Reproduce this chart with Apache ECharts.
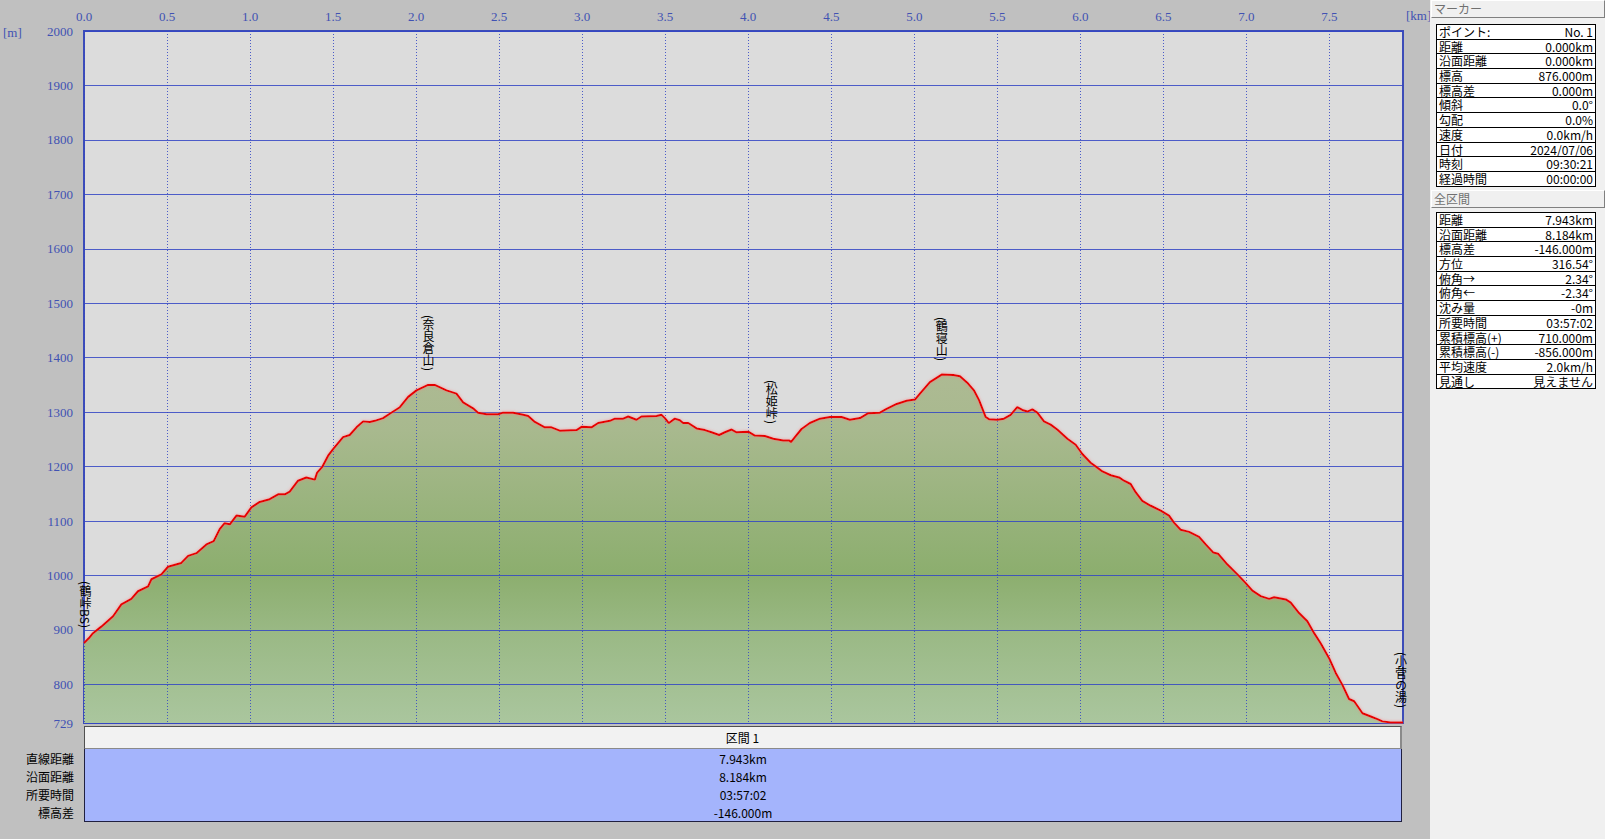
<!DOCTYPE html>
<html><head><meta charset="utf-8">
<script src="https://cdn.jsdelivr.net/npm/echarts@6/dist/echarts.min.js"></script>
<style>
html,body{margin:0;padding:0;background:#c0c0c0;width:1605px;height:839px;overflow:hidden;font-family:"Noto Sans CJK JP",sans-serif;}
#chart{position:absolute;left:0;top:0;width:1605px;height:839px;}
#panel{position:absolute;left:1430px;top:0;width:175px;height:839px;background:#f0f0f0;}
.hdr{position:absolute;left:1px;width:170px;height:16px;border:1px solid;border-color:#ffffff #808080 #808080 #ffffff;color:#707070;font-size:12px;line-height:16px;padding-left:2px;box-sizing:content-box;}
.tbl{position:absolute;left:6px;width:158px;border:1px solid #000;background:#fff;}
.row{height:13.7px;border-bottom:1px solid #000;display:flex;justify-content:space-between;font-size:12px;line-height:14px;padding:0 2px;color:#000;}
.row:last-child{border-bottom:none;}
#sechdr{position:absolute;left:84px;top:726px;width:1315px;height:21px;background:#f2f2f2;border:1px solid #505050;border-bottom:2px solid #8a8a8a;border-right:2px solid #8a8a8a;text-align:center;font-size:12px;line-height:21px;color:#000;}
#secbody{position:absolute;left:84px;top:749px;width:1316px;height:72px;background:#a4b4fc;border:1px solid #202040;border-top:none;}
.sv{position:absolute;left:0;width:100%;text-align:center;font-size:12px;line-height:18px;color:#000;}
.sl{position:absolute;right:1531px;font-size:12px;line-height:18px;color:#000;white-space:nowrap;}
.wp{position:absolute;writing-mode:vertical-rl;text-orientation:mixed;font-size:12px;line-height:12px;color:#000;white-space:nowrap;transform:translate(-50%,-100%);font-family:"Noto Sans CJK JP",sans-serif;}
</style></head><body>
<div id="chart"></div>
<div id="panel"></div>
<div id="sechdr"></div>
<div id="secbody"></div>
<script>
const distanceKm = [0.000,0.030,0.054,0.104,0.175,0.225,0.285,0.325,0.386,0.406,0.466,0.506,0.586,0.627,0.677,0.737,0.781,0.817,0.847,0.878,0.918,0.968,1.008,1.058,1.118,1.169,1.209,1.239,1.289,1.339,1.390,1.404,1.436,1.470,1.500,1.560,1.600,1.641,1.681,1.721,1.751,1.801,1.841,1.902,1.952,2.002,2.072,2.112,2.183,2.243,2.283,2.343,2.373,2.424,2.494,2.524,2.584,2.645,2.675,2.715,2.775,2.815,2.865,2.966,2.996,3.056,3.096,3.167,3.197,3.247,3.277,3.327,3.357,3.448,3.478,3.498,3.522,3.558,3.588,3.608,3.639,3.689,3.739,3.779,3.825,3.859,3.900,3.930,4.000,4.040,4.100,4.151,4.211,4.247,4.257,4.281,4.321,4.371,4.432,4.492,4.562,4.612,4.673,4.723,4.793,4.833,4.894,4.954,5.004,5.034,5.094,5.165,5.235,5.275,5.319,5.359,5.390,5.430,5.450,5.500,5.540,5.580,5.620,5.651,5.681,5.711,5.741,5.781,5.821,5.861,5.922,5.972,6.012,6.062,6.102,6.133,6.183,6.233,6.263,6.303,6.333,6.373,6.424,6.484,6.534,6.564,6.604,6.655,6.715,6.755,6.801,6.829,6.886,6.946,6.996,7.036,7.086,7.137,7.167,7.237,7.267,7.317,7.367,7.408,7.448,7.498,7.538,7.578,7.618,7.649,7.699,7.749,7.789,7.819,7.869,7.943];
const elevationM = [876,885,894,906,925,947,957,971,980,993,1002,1016,1023,1036,1041,1057,1063,1085,1096,1094,1110,1108,1125,1135,1140,1149,1149,1154,1174,1180,1176,1189,1200,1220,1232,1254,1258,1272,1283,1282,1284,1289,1297,1309,1328,1340,1350,1350,1340,1334,1318,1307,1299,1296,1296,1299,1299,1295,1293,1282,1272,1272,1266,1267,1273,1272,1280,1284,1288,1288,1292,1286,1292,1293,1295,1289,1280,1288,1285,1280,1280,1270,1267,1263,1258,1263,1268,1263,1264,1257,1256,1251,1248,1248,1245,1254,1269,1280,1288,1291,1291,1286,1289,1298,1299,1306,1315,1321,1323,1334,1355,1369,1368,1366,1354,1340,1322,1291,1287,1286,1288,1295,1309,1304,1301,1305,1299,1283,1277,1268,1251,1240,1223,1207,1198,1191,1184,1180,1174,1168,1153,1137,1128,1119,1110,1097,1084,1080,1071,1057,1042,1040,1020,1002,986,972,962,957,960,956,950,931,916,894,875,848,821,799,773,769,747,741,736,732,730,730];
const xTicks = [0.0,0.5,1.0,1.5,2.0,2.5,3.0,3.5,4.0,4.5,5.0,5.5,6.0,6.5,7.0,7.5];
const yTicks = [729,800,900,1000,1100,1200,1300,1400,1500,1600,1700,1800,1900,2000];
const waypointNames = ['(鶴峠BS)','(奈良倉山)','(松姫峠)','(鶴寝山)','(小菅の湯)'];
const waypointKm = [0.006,2.072,4.139,5.163,7.928];
const markerTitle = 'マーカー';
const markerLabels = ['ポイント:','距離','沿面距離','標高','標高差','傾斜','勾配','速度','日付','時刻','経過時間'];
const markerValues = ['No. 1','0.000km','0.000km','876.000m','0.000m','0.0°','0.0%','0.0km/h','2024/07/06','09:30:21','00:00:00'];
const totalTitle = '全区間';
const totalLabels = ['距離','沿面距離','標高差','方位','俯角→','俯角←','沈み量','所要時間','累積標高(+)','累積標高(-)','平均速度','見通し'];
const totalValues = ['7.943km','8.184km','-146.000m','316.54°','2.34°','-2.34°','-0m','03:57:02','710.000m','-856.000m','2.0km/h','見えません'];
const sectionTitle = '区間 1';
const sectionLabels = ['直線距離','沿面距離','所要時間','標高差'];
const sectionValues = ['7.943km','8.184km','03:57:02','-146.000m'];

// side panel
const panel = document.getElementById('panel');
function addBlock(title, labels, values, top, tableTop) {
  const h = document.createElement('div'); h.className='hdr'; h.style.top = top+'px'; h.textContent = title; panel.appendChild(h);
  const t = document.createElement('div'); t.className='tbl'; t.style.top = tableTop+'px';
  labels.forEach((l,i)=>{ const r=document.createElement('div'); r.className='row';
    const a=document.createElement('span'); a.textContent=l; const b=document.createElement('span'); b.textContent=values[i];
    r.appendChild(a); r.appendChild(b); t.appendChild(r); });
  panel.appendChild(t);
}
addBlock(markerTitle, markerLabels, markerValues, 0, 24);
addBlock(totalTitle, totalLabels, totalValues, 190, 212);
document.getElementById('sechdr').textContent = sectionTitle;
const sb = document.getElementById('secbody');
sectionValues.forEach((v,i)=>{ const d=document.createElement('div'); d.className='sv'; d.style.top=(1+i*18)+'px'; d.textContent=v; sb.appendChild(d);
  const l=document.createElement('div'); l.className='sl'; l.style.top=(750+i*18)+'px'; l.textContent=sectionLabels[i]; document.body.appendChild(l); });

function elevAt(km){ for(let i=1;i<distanceKm.length;i++){ if(km<=distanceKm[i]){ const t=(km-distanceKm[i-1])/(distanceKm[i]-distanceKm[i-1]); return elevationM[i-1]+t*(elevationM[i]-elevationM[i-1]); } } return elevationM[elevationM.length-1]; }

const chart = echarts.init(document.getElementById('chart'), null, {renderer:'svg'});
const axisBlue = '#4152b3';
const gridBlue = '#3345c4';
const profile = distanceKm.map((d,i)=>[d,elevationM[i]]);
chart.setOption({
  animation:false,
  backgroundColor:'transparent',
  grid:{left:84,top:31,width:1319,height:692,show:true,backgroundColor:'#dcdcdc',borderColor:'#3c4cb8',borderWidth:2},
  xAxis:{type:'value',position:'top',min:0,max:distanceKm[distanceKm.length-1],z:5,
    axisLine:{show:false},
    axisTick:{show:false,customValues:xTicks},
    axisLabel:{customValues:xTicks,formatter:v=>v.toFixed(1),color:axisBlue,fontSize:13,fontFamily:'Liberation Serif',margin:8},
    splitLine:{show:true,lineStyle:{color:gridBlue,type:[1,2],width:1,opacity:0.85}}},
  yAxis:{type:'value',min:729,max:2000,z:5,
    axisLine:{show:false},
    axisTick:{show:false,customValues:yTicks},
    axisLabel:{customValues:yTicks,formatter:v=>String(v),color:axisBlue,fontSize:13,fontFamily:'Liberation Serif',margin:11},
    splitLine:{show:true,lineStyle:{color:gridBlue,width:1,opacity:0.85}}},
  graphic:[
    {type:'text',left:3,top:26,style:{text:'[m]',fill:axisBlue,font:'13px "Liberation Serif"'}},
    {type:'text',left:1406,top:9,style:{text:'[km]',fill:axisBlue,font:'13px "Liberation Serif"'}}
  ],
  series:[{
    type:'line',z:1,
    data:profile,
    showSymbol:false,
    lineStyle:{width:0},
    areaStyle:{origin:'start',opacity:1,color:{type:'linear',x:0,y:376,x2:0,y2:723,global:true,colorStops:[
      {offset:0,color:'#adba93'},{offset:0.16,color:'#a8b98e'},{offset:0.57,color:'#8cae6e'},{offset:0.74,color:'#9ab985'},{offset:1,color:'#aac69e'}]}}
  },{
    type:'line',z:8,
    data:profile,
    showSymbol:false,
    lineStyle:{color:'#e60000',width:2,shadowColor:'rgba(255,120,120,0.7)',shadowBlur:3}
  }]
});

waypointNames.forEach((n,i)=>{
  const p = chart.convertToPixel({gridIndex:0}, [waypointKm[i], elevAt(waypointKm[i])]);
  const d = document.createElement('div'); d.className='wp'; d.textContent = n;
  d.style.left = p[0]+'px'; d.style.top = (p[1]-14)+'px';
  document.body.appendChild(d);
});
</script>
</body></html>
